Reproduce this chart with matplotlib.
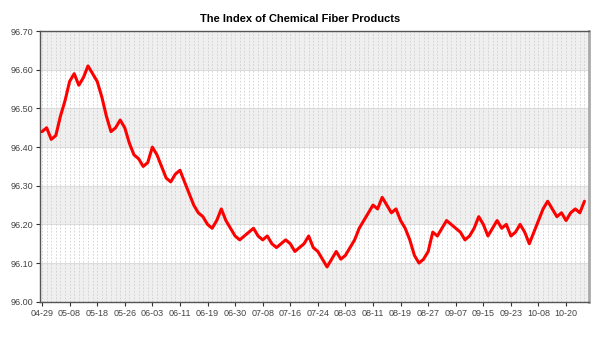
import matplotlib
matplotlib.use("Agg")
import matplotlib.pyplot as plt
import numpy as np

plt.rcParams['font.family'] = ['Liberation Sans', 'DejaVu Sans']

# daily index values (one per trading day)
index_values = [
    96.44, 96.45, 96.42, 96.43, 96.48, 96.52, 96.57, 96.59, 96.56, 96.58,
    96.61, 96.59, 96.57, 96.53, 96.48, 96.44, 96.45, 96.47, 96.45, 96.41,
    96.38, 96.37, 96.35, 96.36, 96.40, 96.38, 96.35, 96.32, 96.31, 96.33,
    96.34, 96.31, 96.28, 96.25, 96.23, 96.22, 96.20, 96.19, 96.21, 96.24,
    96.21, 96.19, 96.17, 96.16, 96.17, 96.18, 96.19, 96.17, 96.16, 96.17,
    96.15, 96.14, 96.15, 96.16, 96.15, 96.13, 96.14, 96.15, 96.17, 96.14,
    96.13, 96.11, 96.09, 96.11, 96.13, 96.11, 96.12, 96.14, 96.16, 96.19,
    96.21, 96.23, 96.25, 96.24, 96.27, 96.25, 96.23, 96.24, 96.21, 96.19,
    96.16, 96.12, 96.10, 96.11, 96.13, 96.18, 96.17, 96.19, 96.21, 96.20,
    96.19, 96.18, 96.16, 96.17, 96.19, 96.22, 96.20, 96.17, 96.19, 96.21,
    96.19, 96.20, 96.17, 96.18, 96.20, 96.18, 96.15, 96.18, 96.21, 96.24,
    96.26, 96.24, 96.22, 96.23, 96.21, 96.23, 96.24, 96.23, 96.26,
]
# labels shown every 6th trading day
tick_labels = ['04-29', '05-08', '05-18', '05-26', '06-03', '06-11', '06-19',
               '06-30', '07-08', '07-16', '07-24', '08-03', '08-11', '08-19',
               '08-27', '09-07', '09-15', '09-23', '10-08', '10-20']
y_ticks = [96.0, 96.1, 96.2, 96.3, 96.4, 96.5, 96.6, 96.7]

n = len(index_values)
x = np.arange(n)

fig = plt.figure(figsize=(6, 3.5), dpi=100)
ax = fig.add_axes([0.067, 0.138, 0.914, 0.773])

# alternating horizontal bands
for k in range(len(y_ticks) - 1):
    if k % 2 == 0:
        ax.axhspan(y_ticks[k], y_ticks[k + 1], color='#efefef', zorder=0, lw=0)
for yv in y_ticks:
    ax.axhline(yv, color='#dcdcdc', lw=0.8, zorder=1)
# dashed vertical line at every data point
for xi in x:
    ax.axvline(xi, color='#cfcfcf', lw=0.6, ls=(0, (2, 2)), zorder=1)

ax.plot(x, index_values, color='#ff0000', lw=2.2, solid_joinstyle='round',
        solid_capstyle='round', zorder=3)

ax.set_xlim(-0.4, n - 1 + 0.9)
ax.set_ylim(96.0, 96.7)
ax.set_yticks(y_ticks)
ax.set_yticklabels(['%.2f' % v for v in y_ticks])
ax.set_xticks(np.arange(0, 6 * len(tick_labels), 6))
ax.set_xticklabels(tick_labels)
ax.tick_params(axis='both', labelsize=6.5, colors='#333333', length=3,
               width=0.8, labelcolor='#444444', pad=2)

for side in ['left', 'bottom', 'top']:
    ax.spines[side].set_color('#555555')
    ax.spines[side].set_linewidth(1.0)
ax.spines['right'].set_color('#aaaaaa')
ax.spines['right'].set_linewidth(2.0)

fig.text(0.5, 0.945, 'The Index of Chemical Fiber Products', ha='center',
         va='center', fontsize=8, fontweight='bold', color='#000000')

fig.savefig('out.png', dpi=100)
